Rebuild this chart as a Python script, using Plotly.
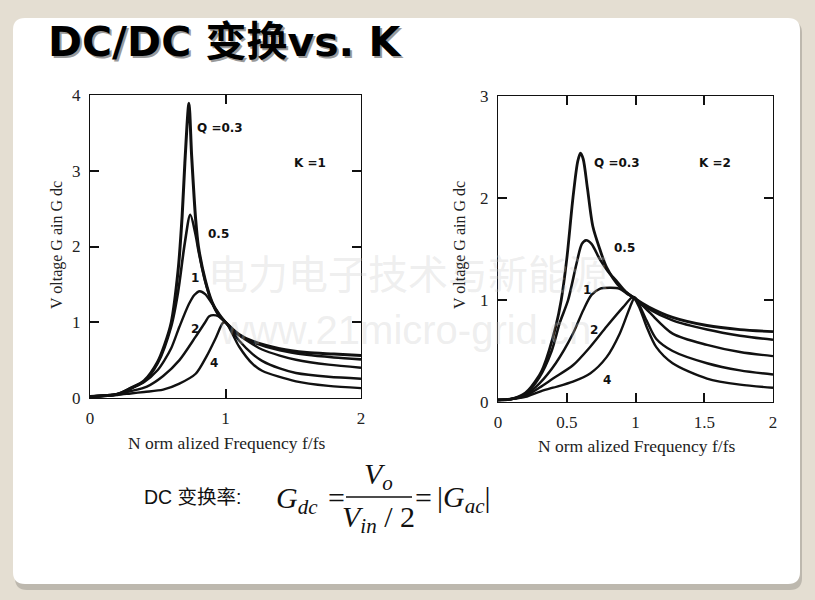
"""
DC/DC gain vs. normalized frequency for K=1 and K=2 (slide recreation).
"""

import plotly.graph_objects as go

W, H = 815, 600

# ---- data: K = 1 ----
k1_q03_f = [0, 0.2, 0.3, 0.4, 0.5, 0.55, 0.6, 0.65, 0.68, 0.7, 0.73, 0.75, 0.78, 0.8, 0.85, 0.9, 0.95, 1.0, 1.1, 1.2, 1.4, 1.6, 1.8, 2.0]
k1_q03_g = [0.02, 0.05, 0.13, 0.23, 0.48, 0.7, 1.0, 1.68, 2.4, 3.1, 3.89, 3.2, 2.35, 2.0, 1.56, 1.27, 1.1, 1.0, 0.84, 0.75, 0.65, 0.6, 0.58, 0.56]
k1_q05_f = [0, 0.2, 0.3, 0.4, 0.5, 0.6, 0.65, 0.7, 0.74, 0.78, 0.8, 0.85, 0.9, 0.95, 1.0, 1.1, 1.2, 1.4, 1.6, 1.8, 2.0]
k1_q05_g = [0.02, 0.05, 0.13, 0.22, 0.46, 0.95, 1.4, 2.05, 2.42, 2.15, 1.95, 1.54, 1.26, 1.09, 1.0, 0.83, 0.74, 0.63, 0.57, 0.535, 0.51]
k1_q1_f = [0, 0.2, 0.3, 0.4, 0.5, 0.55, 0.6, 0.66, 0.73, 0.77, 0.81, 0.85, 0.9, 0.95, 1.0, 1.1, 1.2, 1.27, 1.4, 1.52, 1.76, 2.0]
k1_q1_g = [0.02, 0.05, 0.12, 0.21, 0.37, 0.5, 0.66, 0.94, 1.24, 1.36, 1.41, 1.37, 1.25, 1.12, 1.0, 0.83, 0.71, 0.64, 0.56, 0.505, 0.44, 0.4]
k1_q2_f = [0, 0.2, 0.3, 0.42, 0.54, 0.66, 0.78, 0.85, 0.88, 0.93, 0.97, 1.0, 1.1, 1.2, 1.27, 1.4, 1.52, 1.76, 2.0]
k1_q2_g = [0.02, 0.05, 0.09, 0.15, 0.29, 0.5, 0.81, 1.0, 1.08, 1.09, 1.05, 1.0, 0.76, 0.58, 0.49, 0.39, 0.33, 0.28, 0.255]
k1_q4_f = [0, 0.2, 0.3, 0.4, 0.54, 0.66, 0.78, 0.86, 0.93, 0.98, 1.0, 1.05, 1.1, 1.2, 1.27, 1.52, 1.76, 2.0]
k1_q4_g = [0.02, 0.04, 0.06, 0.08, 0.11, 0.19, 0.32, 0.55, 0.8, 0.99, 1.0, 0.85, 0.68, 0.45, 0.36, 0.22, 0.16, 0.13]

# ---- data: K = 2 ----
k2_q03_f = [0, 0.1, 0.2, 0.3, 0.33, 0.42, 0.46, 0.5, 0.545, 0.58, 0.6, 0.62, 0.65, 0.69, 0.74, 0.79, 0.885, 1.0, 1.1, 1.27, 1.52, 1.76, 2.0]
k2_q03_g = [0.02, 0.03, 0.09, 0.26, 0.34, 0.74, 1.0, 1.4, 2.0, 2.36, 2.44, 2.38, 2.1, 1.72, 1.5, 1.32, 1.13, 1.01, 0.93, 0.83, 0.75, 0.71, 0.69]
k2_q05_f = [0, 0.1, 0.2, 0.3, 0.39, 0.45, 0.51, 0.57, 0.61, 0.64, 0.68, 0.74, 0.8, 0.86, 0.93, 1.0, 1.1, 1.27, 1.52, 1.76, 2.0]
k2_q05_g = [0.02, 0.03, 0.08, 0.24, 0.5, 0.78, 1.0, 1.35, 1.55, 1.585, 1.55, 1.4, 1.28, 1.19, 1.08, 1.01, 0.91, 0.8, 0.71, 0.65, 0.61]
k2_q1_f = [0, 0.1, 0.2, 0.3, 0.42, 0.545, 0.62, 0.68, 0.74, 0.82, 0.885, 0.94, 1.0, 1.1, 1.27, 1.52, 1.76, 2.0]
k2_q1_g = [0.02, 0.03, 0.07, 0.18, 0.38, 0.67, 0.9, 1.05, 1.11, 1.12, 1.11, 1.06, 1.01, 0.88, 0.67, 0.56, 0.49, 0.45]
k2_q2_f = [0, 0.1, 0.2, 0.3, 0.4, 0.545, 0.67, 0.79, 0.91, 0.98, 1.0, 1.08, 1.15, 1.27, 1.52, 1.76, 2.0]
k2_q2_g = [0.02, 0.03, 0.06, 0.14, 0.23, 0.36, 0.54, 0.74, 0.93, 1.03, 1.02, 0.8, 0.62, 0.5, 0.38, 0.31, 0.27]
k2_q4_f = [0, 0.1, 0.2, 0.3, 0.4, 0.545, 0.67, 0.79, 0.885, 0.96, 0.99, 1.03, 1.08, 1.15, 1.27, 1.52, 1.76, 2.0]
k2_q4_g = [0.02, 0.03, 0.05, 0.1, 0.14, 0.2, 0.28, 0.44, 0.67, 0.93, 1.01, 0.92, 0.74, 0.54, 0.38, 0.23, 0.17, 0.14]

# curve labels (text, f, gain)
k1_labels = [("Q =0.3", 0.96, 3.57), ("0.5", 0.945, 2.17), ("1", 0.775, 1.59),
             ("2", 0.775, 0.91), ("4", 0.915, 0.46), ("K =1", 1.62, 3.1)]
k2_labels = [("Q =0.3", 0.863, 2.34), ("0.5", 0.92, 1.51), ("1", 0.645, 1.1),
             ("2", 0.696, 0.71), ("4", 0.79, 0.22), ("K =2", 1.575, 2.34)]


def px(x, y):
    """pixel position -> paper coords"""
    return x / W, 1 - y / H


def rounded_rect(x0, y0, x1, y1, r):
    # path in paper coordinates, built from pixel corners
    rx, ry = r / W, r / H
    a0, b1 = px(x0, y0)
    a1, b0 = px(x1, y1)
    return (f"M {a0+rx},{b1} L {a1-rx},{b1} Q {a1},{b1} {a1},{b1-ry} "
            f"L {a1},{b0+ry} Q {a1},{b0} {a1-rx},{b0} L {a0+rx},{b0} "
            f"Q {a0},{b0} {a0},{b0+ry} L {a0},{b1-ry} Q {a0},{b1} {a0+rx},{b1} Z")


def note(txt, x, y, font, xanchor="center", angle=0):
    ax, ay = px(x, y)
    fig.add_annotation(x=ax, y=ay, xref="paper", yref="paper", text=txt, showarrow=False,
                       xanchor=xanchor, yanchor="middle", textangle=angle, font=font)


fig = go.Figure()

curves_k1 = [(k1_q03_f, k1_q03_g, 3.0), (k1_q05_f, k1_q05_g, 2.6), (k1_q1_f, k1_q1_g, 2.4),
             (k1_q2_f, k1_q2_g, 2.4), (k1_q4_f, k1_q4_g, 2.4)]
curves_k2 = [(k2_q03_f, k2_q03_g, 2.8), (k2_q05_f, k2_q05_g, 2.6), (k2_q1_f, k2_q1_g, 2.4),
             (k2_q2_f, k2_q2_g, 2.4), (k2_q4_f, k2_q4_g, 2.4)]

for f, g, w in curves_k1:
    fig.add_trace(go.Scatter(x=f, y=g, mode="lines", xaxis="x", yaxis="y",
                             line=dict(color="#111111", width=w, shape="spline", smoothing=0.8),
                             showlegend=False, hoverinfo="skip"))
for f, g, w in curves_k2:
    fig.add_trace(go.Scatter(x=f, y=g, mode="lines", xaxis="x2", yaxis="y2",
                             line=dict(color="#111111", width=w, shape="spline", smoothing=0.8),
                             showlegend=False, hoverinfo="skip"))

tick_font = dict(family="Liberation Serif", size=17, color="#222222")
axis_common = dict(showline=True, linecolor="#111111", linewidth=1.2, mirror="ticks",
                   ticks="inside", ticklen=9, tickwidth=1.5, tickcolor="#111111",
                   showgrid=False, zeroline=False, tickfont=tick_font)
xa = dict(ticklabelstandoff=4, **axis_common)
ya = dict(ticklabelstandoff=5, **axis_common)

fig.update_layout(
    width=W, height=H, autosize=False,
    margin=dict(l=0, r=0, t=0, b=0, pad=0, autoexpand=False),
    paper_bgcolor="#e4ded2",
    plot_bgcolor="rgba(0,0,0,0)",
    xaxis=dict(domain=[90 / W, 361 / W], range=[0, 2], dtick=1, anchor="y", **xa),
    yaxis=dict(domain=[1 - 398 / H, 1 - 95 / H], range=[0, 4], dtick=1, anchor="x", **ya),
    xaxis2=dict(domain=[498 / W, 773 / W], range=[0, 2], dtick=0.5, anchor="y2", **xa),
    yaxis2=dict(domain=[1 - 402 / H, 1 - 96 / H], range=[0, 3], dtick=1, anchor="x2", **ya),
)

# slide card with shadow
fig.add_shape(type="path", path=rounded_rect(15, 21, 802, 590, 12), xref="paper", yref="paper",
              fillcolor="#bdb8ae", line=dict(width=0), layer="below")
fig.add_shape(type="path", path=rounded_rect(13, 18, 800, 584, 12), xref="paper", yref="paper",
              fillcolor="#ffffff", line=dict(width=0), layer="below")

# watermark
note("电力电子技术与新能源", 408, 272, dict(family="Noto Sans CJK SC", size=40, color="rgba(200,200,200,0.3)"))
note("www.21micro-grid.cn", 405, 330, dict(family="Liberation Sans", size=40, color="rgba(200,200,200,0.3)"))

# title with shadow
for d, col in [(2, "#9a9a9a"), (0, "#000000")]:
    note("<b>DC/DC 变换vs. K</b>", 46 + d, 42 + d,
         dict(family="DejaVu Sans, Noto Sans CJK SC", size=41, color=col), xanchor="left")

# axis titles
title_font = dict(family="Liberation Serif", size=17.5, color="#222222")
note("N orm alized Frequency f/fs", 226, 443, title_font)
note("N orm alized Frequency f/fs", 636, 446, title_font)
yt_font = dict(family="Liberation Serif", size=16, color="#222222")
note("V oltage G ain G dc", 57, 245, yt_font, angle=-90)
note("V oltage G ain G dc", 460, 245, yt_font, angle=-90)

# curve labels
lab_font = dict(family="DejaVu Sans", size=12, color="#111111")
for txt, f, g in k1_labels:
    fig.add_annotation(x=f, y=g, xref="x", yref="y", text=f"<b>{txt}</b>", showarrow=False, font=lab_font)
for txt, f, g in k2_labels:
    fig.add_annotation(x=f, y=g, xref="x2", yref="y2", text=f"<b>{txt}</b>", showarrow=False, font=lab_font)

# formula line under the charts
note("DC 变换率:", 142, 497, dict(family="Liberation Sans, Noto Sans CJK SC", size=19.5, color="#111111"),
     xanchor="left")
math_font = dict(family="Liberation Serif", size=30, color="#111111")
note("<i>G</i><sub><i>dc</i></sub>", 297, 500, math_font)
note("=", 336, 497, math_font)
note("<i>V</i><sub><i>o</i></sub>", 378, 476, math_font)
note("<i>V</i><sub><i>in</i></sub> / 2", 378, 519, math_font)
note("=", 423, 497, math_font)
note("|<i>G</i><sub><i>ac</i></sub>|", 464, 499, math_font)
x0, y0 = px(346, 497)
x1, _ = px(412, 497)
fig.add_shape(type="line", x0=x0, x1=x1, y0=y0, y1=y0, xref="paper", yref="paper",
              line=dict(color="#111111", width=1.5))

# the page's default body margin would push the 815x600 figure off the window
fig.write_html("out.html", config={"displayModeBar": False},
               post_script="document.body.style.margin='0';"
                           "document.body.style.overflow='hidden';")
